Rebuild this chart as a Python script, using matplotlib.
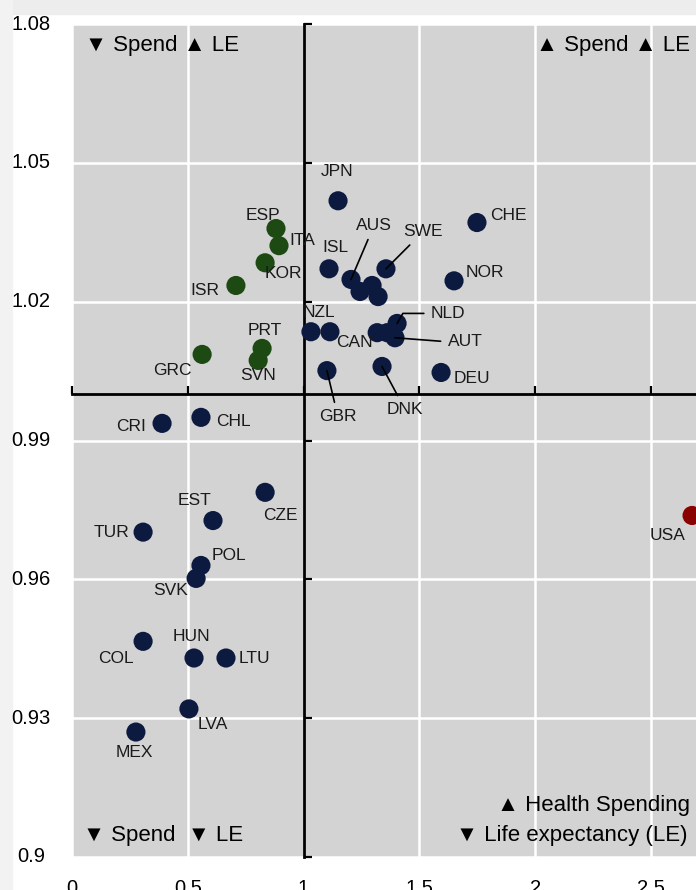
import matplotlib
matplotlib.use("Agg")
import matplotlib.pyplot as plt
import matplotlib.transforms as mtransforms
from matplotlib.patches import Rectangle

# ---------------- data ----------------
countries = ["JPN", "CHE", "NOR", "ESP", "ITA", "KOR", "ISR", "ISL", "AUS", "SWE",
             "FRA", "FIN", "BEL", "NZL", "CAN", "IRL", "LUX", "NLD", "AUT", "DNK",
             "DEU", "GBR", "PRT", "SVN", "GRC", "CRI", "CHL", "CZE", "EST", "TUR",
             "POL", "SVK", "COL", "HUN", "LTU", "LVA", "MEX", "USA"]
spending = [1.149, 1.749, 1.650, 0.881, 0.894, 0.834, 0.708, 1.110, 1.205, 1.356,
            1.244, 1.296, 1.322, 1.032, 1.114, 1.318, 1.361, 1.404, 1.395, 1.339,
            1.594, 1.101, 0.821, 0.804, 0.562, 0.389, 0.557, 0.834, 0.609, 0.307,
            0.557, 0.536, 0.307, 0.527, 0.665, 0.505, 0.276, 2.678]
life_exp = [1.0418, 1.0371, 1.0245, 1.0358, 1.0321, 1.0284, 1.0235, 1.0271, 1.0248, 1.0271,
            1.0222, 1.0235, 1.0211, 1.0135, 1.0135, 1.0133, 1.0133, 1.0153, 1.0122, 1.0060,
            1.0047, 1.0051, 1.0099, 1.0073, 1.0086, 0.9937, 0.9950, 0.9788, 0.9727, 0.9702,
            0.9630, 0.9602, 0.9466, 0.9430, 0.9430, 0.9320, 0.9270, 0.9738]
group = ["blue", "blue", "blue", "green", "green", "green", "green", "blue", "blue", "blue",
         "blue", "blue", "blue", "blue", "blue", "blue", "blue", "blue", "blue", "blue",
         "blue", "blue", "green", "green", "green", "blue", "blue", "blue", "blue", "blue",
         "blue", "blue", "blue", "blue", "blue", "blue", "blue", "red"]
unlabelled = ["FRA", "FIN", "BEL", "IRL", "LUX"]
x_ticks = [0, 0.5, 1, 1.5, 2, 2.5]
x_tick_labels = ["0", "0.5", "1", "1.5", "2", "2.5"]
y_ticks = [0.9, 0.93, 0.96, 0.99, 1.02, 1.05, 1.08]
y_tick_labels = ["0.9", "0.93", "0.96", "0.99", "1.02", "1.05", "1.08"]

# ---------------- style / layout ----------------
palette = {"blue": "#0d1a3f", "green": "#1c4a12", "red": "#8a0303"}
plt.rcParams["font.family"] = ["Liberation Sans", "DejaVu Sans"]

# label offsets in pixels (dx, dy)
label_offsets = {
    "JPN": (-1, 29), "CHE": (31, 7), "NOR": (31, 8), "ESP": (-13, 13), "ITA": (23, 5),
    "KOR": (18, -11), "ISR": (-31, -5), "ISL": (6, 21), "AUS": (23, 54), "SWE": (37, 37),
    "NZL": (8, 19), "CAN": (25, -11), "PRT": (3, 18), "SVN": (0, -15), "GRC": (-30, -16),
    "NLD": (51, 10), "AUT": (70, -4), "DEU": (31, -6), "DNK": (23, -43), "GBR": (11, -46),
    "CRI": (-31, -3), "CHL": (32, -4), "EST": (-19, 20), "CZE": (15, -23), "TUR": (-32, 0),
    "POL": (28, 10), "SVK": (-26, -12), "HUN": (-3, 22), "COL": (-27, -17), "LTU": (28, 0),
    "LVA": (24, -16), "MEX": (-2, -20), "USA": (-25, -20),
}
leader = {"AUS": ("arc3", (0.5, 0.5)), "SWE": ("arc3", (0.5, 0.5)),
          "NLD": ("angle,angleA=0,angleB=60,rad=0", (0.0, 0.5)),
          "AUT": ("arc3", (0.0, 0.5)), "DNK": ("arc3", (0.5, 0.5)),
          "GBR": ("arc3", (0.5, 0.5))}

fig = plt.figure(figsize=(6.96, 8.90), dpi=100)
fig.patches.append(Rectangle((0, 1 - 14 / 890), 1, 14 / 890, transform=fig.transFigure,
                             color="#ededed", zorder=0))
fig.patches.append(Rectangle((0, 0), 12 / 696, 1, transform=fig.transFigure,
                             color="#f2f2f2", zorder=0))
ax = fig.add_axes([72 / 696, 1 - 857 / 890, 624 / 696, 833 / 890])
ax.set_facecolor("#d3d3d3")
ax.set_xlim(0, 2.695)
ax.set_ylim(0.9, 1.08)
ax.set_xticks(x_ticks)
ax.set_yticks(y_ticks)
ax.grid(True, color="white", lw=1.8, zorder=0)
ax.set_axisbelow(True)

for s in ["top", "right"]:
    ax.spines[s].set_visible(False)
ax.spines["left"].set_position(("data", 1.0))
ax.spines["bottom"].set_position(("data", 1.0))
for s in ["left", "bottom"]:
    ax.spines[s].set_linewidth(2.0)
    ax.spines[s].set_color("black")
    ax.spines[s].set_zorder(1.5)
ax.tick_params(axis="both", direction="in", length=5.5, width=1.6, color="black",
               labelleft=False, labelbottom=False)

# tick labels at the outer edges
ytrans = mtransforms.blended_transform_factory(fig.transFigure, ax.transData)
for v, lab in zip(y_ticks, y_tick_labels):
    fig.text(31 / 696, v, lab, transform=ytrans, ha="center", va="center", fontsize=14.5)
xtrans = mtransforms.blended_transform_factory(ax.transData, fig.transFigure)
for v, lab in zip(x_ticks, x_tick_labels):
    fig.text(v, 1 - 879 / 890, lab, transform=xtrans, ha="center", va="top", fontsize=14.5)

# points
colors = [palette[g] for g in group]
ax.scatter(spending, life_exp, s=190, c=colors, linewidths=0, zorder=3, clip_on=True)

# labels
for c, xv, yv in zip(countries, spending, life_exp):
    if c in unlabelled:
        continue
    dx, dy = label_offsets[c]
    kw = dict(textcoords="offset pixels", ha="center", va="center", fontsize=12.5,
              color="#1a1a1a", zorder=4)
    if c in leader:
        cs, rp = leader[c]
        kw["arrowprops"] = dict(arrowstyle="-", color="black", lw=1.2, shrinkA=3,
                                shrinkB=0, connectionstyle=cs, relpos=rp)
    ax.annotate(c, (xv, yv), xytext=(dx, dy), **kw)

# quadrant captions
qfs = 16
ax.text(13 / 624, 1 - 21 / 833, "\u25bc Spend \u25b2 LE", transform=ax.transAxes,
        ha="left", va="center", fontsize=qfs)
ax.text(1 - 6 / 624, 1 - 21 / 833, "\u25b2 Spend \u25b2 LE", transform=ax.transAxes,
        ha="right", va="center", fontsize=qfs)
ax.text(11 / 624, 21 / 833, "\u25bc Spend  \u25bc LE", transform=ax.transAxes,
        ha="left", va="center", fontsize=qfs)
ax.text(1 - 6 / 624, 52 / 833, "\u25b2 Health Spending", transform=ax.transAxes,
        ha="right", va="center", fontsize=qfs)
ax.text(1 - 8 / 624, 21 / 833, "\u25bc Life expectancy (LE)", transform=ax.transAxes,
        ha="right", va="center", fontsize=qfs)

fig.savefig("out.png", dpi=100)
